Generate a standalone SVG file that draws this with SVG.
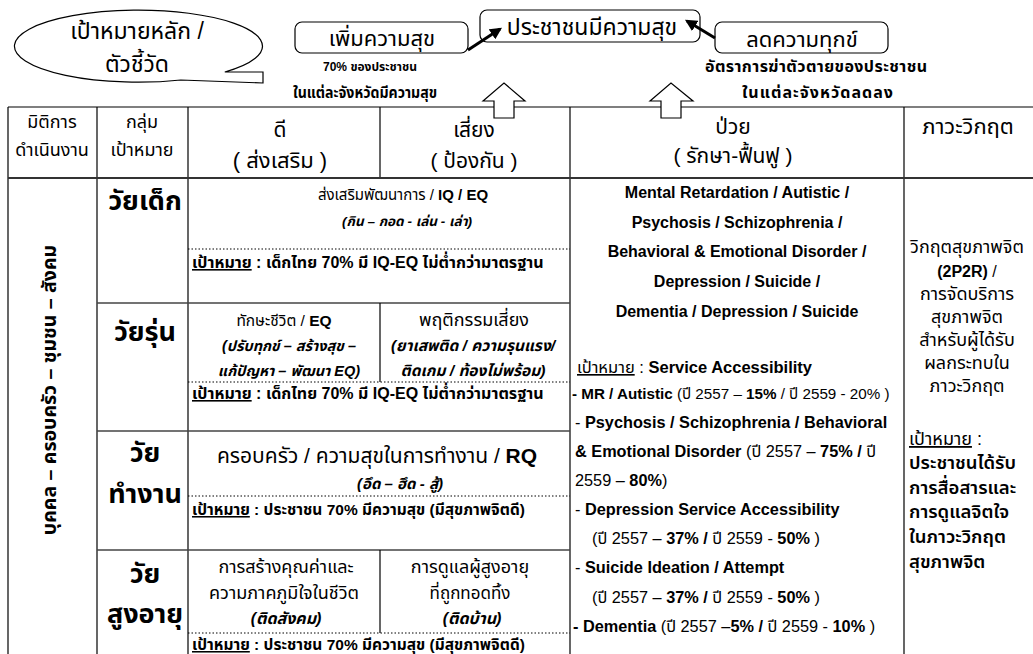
<svg xmlns="http://www.w3.org/2000/svg" width="1033" height="654" viewBox="0 0 1033 654">
<defs>
<style>
.f{font-family:"Liberation Sans","Noto Sans Thai","Noto Sans",sans-serif;fill:#000}
.b{font-weight:bold}
.n{font-weight:normal}
.i{font-style:italic}
.c{text-anchor:middle}
.u{text-decoration:underline}
.grid{stroke:#000;stroke-width:1.2;fill:none}
.row{stroke:#444;stroke-width:1.6;fill:none}
.dot{stroke:#000;stroke-width:1;stroke-dasharray:1.5 2;fill:none}
.box{fill:#fff;stroke:#000;stroke-width:1.2}
.conn{stroke:#000;stroke-width:3;fill:none}
</style>
<marker id="ah" viewBox="0 0 10 10" refX="8" refY="5" markerWidth="4" markerHeight="4" orient="auto" markerUnits="strokeWidth">
<path d="M0,0 L10,5 L0,10 Z" fill="#000"/>
</marker>
</defs>
<rect width="1033" height="654" fill="#fff"/>

<g id="table">
<line class="grid" x1="8" y1="107" x2="1033" y2="107"/>
<line class="grid" x1="8" y1="107" x2="8" y2="654"/>
<line class="grid" x1="97" y1="107" x2="97" y2="654"/>
<line class="grid" x1="188" y1="107" x2="188" y2="654"/>
<line class="grid" x1="380" y1="107" x2="380" y2="178"/>
<line class="grid" x1="570" y1="107" x2="570" y2="654"/>
<line class="grid" x1="904" y1="107" x2="904" y2="654"/>
<line stroke="#333" stroke-width="2" x1="8" y1="178" x2="1033" y2="178"/>
<line class="row" x1="97" y1="303" x2="570" y2="303"/>
<line class="row" x1="97" y1="431" x2="570" y2="431"/>
<line class="row" x1="97" y1="550" x2="570" y2="550"/>
<line class="grid" x1="380" y1="303" x2="380" y2="382"/>
<line class="grid" x1="380" y1="550" x2="380" y2="633"/>
<line class="dot" x1="188" y1="249" x2="570" y2="249"/>
<line class="dot" x1="188" y1="382" x2="570" y2="382"/>
<line class="dot" x1="188" y1="496" x2="570" y2="496"/>
<line class="dot" x1="188" y1="633" x2="570" y2="633"/>
</g>

<g id="callout">
<path class="box" d="M180.8,80 A124,36 0 1 1 224.8,72 L263,72 L263,83 Z"/>
<text class="f c" x="137" y="39" font-size="23">เป้าหมายหลัก /</text>
<text class="f c" x="137" y="72" font-size="23">ตัวชี้วัด</text>
</g>

<g id="node-increase">
<rect class="box" x="295" y="22" width="173" height="31" rx="7"/>
<text class="f c" x="382" y="46" font-size="22">เพิ่มความสุข</text>
<text class="f b" x="323" y="71" font-size="13" textLength="94" lengthAdjust="spacingAndGlyphs">70% ของประชาชน</text>
<text class="f b" x="293" y="98" font-size="15" textLength="144" lengthAdjust="spacingAndGlyphs">ในแต่ละจังหวัดมีความสุข</text>
</g>

<g id="node-happy">
<rect class="box" x="480" y="10" width="220" height="32" rx="7"/>
<text class="f c" x="592" y="35" font-size="23">ประชาชนมีความสุข</text>
</g>

<g id="node-reduce">
<rect class="box" x="715" y="22" width="173" height="31" rx="7"/>
<text class="f c" x="802" y="47" font-size="22">ลดความทุกข์</text>
<text class="f b" x="705" y="72" font-size="16" textLength="222" lengthAdjust="spacing">อัตราการฆ่าตัวตายของประชาชน</text>
<text class="f b" x="742" y="98" font-size="16" textLength="151" lengthAdjust="spacing">ในแต่ละจังหวัดลดลง</text>
</g>

<g id="connectors">
<line class="conn" x1="468" y1="50" x2="500" y2="29" marker-end="url(#ah)"/>
<line class="conn" x1="715" y1="38" x2="687" y2="21" marker-end="url(#ah)"/>
<path class="box" d="M483,101 L504,83 L525,101 L514,101 L514,118 L494,118 L494,101 Z"/>
<path class="box" d="M650,101 L671,83 L693,101 L681,101 L681,118 L661,118 L661,101 Z"/>
</g>

<g id="header">
<text class="f c" x="52" y="128" font-size="18">มิติการ</text>
<text class="f c" x="52" y="156" font-size="18">ดำเนินงาน</text>
<text class="f c" x="142" y="128" font-size="18">กลุ่ม</text>
<text class="f c" x="142" y="156" font-size="18">เป้าหมาย</text>
<text class="f c" x="280" y="137" font-size="21">ดี</text>
<text class="f c" x="280" y="168" font-size="22">( ส่งเสริม )</text>
<text class="f c" x="474" y="137" font-size="21">เสี่ยง</text>
<text class="f c" x="474" y="168" font-size="21">( ป้องกัน )</text>
<text class="f c" x="733" y="134" font-size="21">ป่วย</text>
<text class="f c" x="733" y="163" font-size="21">( รักษา-ฟื้นฟู )</text>
<text class="f c" x="968" y="134" font-size="22">ภาวะวิกฤต</text>
</g>

<g id="dimension">
<text class="f c b" transform="translate(56,390) rotate(-90)" font-size="19.5">บุคคล – ครอบครัว – ชุมชน – สังคม</text>
</g>

<g id="age-labels">
<text class="f c b" x="145" y="210" font-size="27">วัยเด็ก</text>
<text class="f c b" x="145" y="341" font-size="27">วัยรุ่น</text>
<text class="f c b" x="145" y="462" font-size="27">วัย</text>
<text class="f c b" x="145" y="503" font-size="27">ทำงาน</text>
<text class="f c b" x="145" y="583" font-size="27">วัย</text>
<text class="f c b" x="145" y="623" font-size="27">สูงอายุ</text>
</g>

<g id="child">
<text class="f c" x="403" y="200" font-size="15">ส่งเสริมพัฒนาการ /  <tspan class="b">IQ / EQ</tspan></text>
<text class="f c b i" x="407" y="226" font-size="13.5">(กิน – กอด -  เล่น -  เล่า)</text>
<text class="f b" x="192" y="268" font-size="16"><tspan class="u">เป้าหมาย</tspan> : เด็กไทย 70%  มี IQ-EQ ไม่ต่ำกว่ามาตรฐาน</text>
</g>

<g id="teen">
<text class="f c" x="284" y="326" font-size="15.5">ทักษะชีวิต / <tspan class="b">EQ</tspan></text>
<text class="f c b i" x="289" y="351" font-size="14.5">(ปรับทุกข์ – สร้างสุข –</text>
<text class="f c b i" x="289" y="376" font-size="14.5">แก้ปัญหา – พัฒนา EQ)</text>
<text class="f c" x="474" y="326" font-size="18">พฤติกรรมเสี่ยง</text>
<text class="f c b i" x="473" y="351" font-size="15.5">(ยาเสพติด / ความรุนแรง/</text>
<text class="f c b i" x="473" y="376" font-size="15.5">ติดเกม / ท้องไม่พร้อม)</text>
<text class="f b" x="192" y="399" font-size="16"><tspan class="u">เป้าหมาย</tspan> : เด็กไทย 70%  มี IQ-EQ ไม่ต่ำกว่ามาตรฐาน</text>
</g>

<g id="working">
<text class="f c" x="377" y="463" font-size="21">ครอบครัว / ความสุขในการทำงาน / <tspan class="b">RQ</tspan></text>
<text class="f c b i" x="400" y="489" font-size="15">(อึด – ฮึด -  สู้)</text>
<text class="f b" x="192" y="515" font-size="15.5"><tspan class="u">เป้าหมาย</tspan> : ประชาชน 70% มีความสุข (มีสุขภาพจิตดี)</text>
</g>

<g id="elderly">
<text class="f c" x="286" y="573" font-size="18">การสร้างคุณค่าและ</text>
<text class="f c" x="284" y="599" font-size="18">ความภาคภูมิใจในชีวิต</text>
<text class="f c b i" x="286" y="624" font-size="16">(ติดสังคม)</text>
<text class="f c" x="470" y="573" font-size="18">การดูแลผู้สูงอายุ</text>
<text class="f c" x="470" y="599" font-size="17">ที่ถูกทอดทิ้ง</text>
<text class="f c b i" x="472" y="624" font-size="16">(ติดบ้าน)</text>
<text class="f b" x="192" y="650" font-size="15.5"><tspan class="u">เป้าหมาย</tspan> : ประชาชน 70% มีความสุข (มีสุขภาพจิตดี)</text>
</g>

<g id="ill">
<text class="f c b" x="737" y="198" font-size="16">Mental Retardation / Autistic /</text>
<text class="f c b" x="737" y="228" font-size="16">Psychosis / Schizophrenia /</text>
<text class="f c b" x="737" y="257" font-size="16">Behavioral &amp; Emotional Disorder /</text>
<text class="f c b" x="737" y="287" font-size="16">Depression / Suicide /</text>
<text class="f c b" x="737" y="317" font-size="16">Dementia / Depression / Suicide</text>
<text class="f" x="577" y="373" font-size="16.5"><tspan class="u">เป้าหมาย</tspan> : <tspan class="b">Service Accessibility</tspan></text>
<text class="f" x="572" y="399" font-size="15.2"><tspan class="b">- MR / Autistic</tspan>  (ปี 2557 – <tspan class="b">15%</tspan> / ปี 2559 -   20% )</text>
<text class="f b" x="575" y="428" font-size="16.3"><tspan class="n">-</tspan>  Psychosis / Schizophrenia /  Behavioral</text>
<text class="f" x="575" y="457" font-size="16.3"><tspan class="b">&amp; Emotional Disorder</tspan>  (ปี 2557 – <tspan class="b">75% /</tspan> ปี</text>
<text class="f" x="575" y="486" font-size="16.3">2559 – <tspan class="b">80%</tspan>)</text>
<text class="f b" x="575" y="515" font-size="16.3"><tspan class="n">-</tspan>  Depression Service Accessibility</text>
<text class="f" x="592" y="544" font-size="16.3">(ปี 2557 – <tspan class="b">37% /</tspan> ปี 2559 -   <tspan class="b">50%</tspan> )</text>
<text class="f b" x="575" y="573" font-size="16.3"><tspan class="n">-</tspan> Suicide Ideation / Attempt</text>
<text class="f" x="592" y="603" font-size="16.3">(ปี 2557 – <tspan class="b">37% /</tspan> ปี 2559 -   <tspan class="b">50%</tspan> )</text>
<text class="f" x="573" y="632" font-size="16.3"><tspan class="b">- Dementia</tspan>  (ปี 2557 –<tspan class="b">5% /</tspan> ปี 2559 - <tspan class="b">10%</tspan> )</text>
</g>

<g id="crisis">
<text class="f c" x="967" y="253" font-size="18">วิกฤตสุขภาพจิต</text>
<text class="f c" x="967" y="277" font-size="16"><tspan class="b">(2P2R)</tspan> /</text>
<text class="f c" x="967" y="300" font-size="18">การจัดบริการ</text>
<text class="f c" x="967" y="323" font-size="18">สุขภาพจิต</text>
<text class="f c" x="967" y="346" font-size="18">สำหรับผู้ได้รับ</text>
<text class="f c" x="967" y="369" font-size="18">ผลกระทบใน</text>
<text class="f c" x="967" y="392" font-size="18">ภาวะวิกฤต</text>
<text class="f" x="909" y="445" font-size="18"><tspan class="u">เป้าหมาย</tspan> :</text>
<text class="f" x="909" y="469" font-size="18.5" font-weight="600">ประชาชนได้รับ</text>
<text class="f" x="909" y="494" font-size="18.5" font-weight="600">การสื่อสารและ</text>
<text class="f" x="909" y="518" font-size="18.5" font-weight="600">การดูแลจิตใจ</text>
<text class="f" x="909" y="543" font-size="18.5" font-weight="600">ในภาวะวิกฤต</text>
<text class="f" x="909" y="568" font-size="18.5" font-weight="600">สุขภาพจิต</text>
</g>
</svg>
